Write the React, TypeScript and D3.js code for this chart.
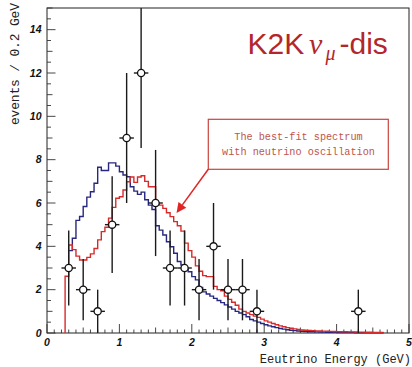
import React from "react";
import * as d3 from "d3";

// ---- data ----
const binWidth = 0.05;
const redStart = 0.25;
const redValues = [
  2.62, 4.06, 3.85, 3.55, 3.37, 3.37, 3.49, 3.65, 3.9, 4.3,
  4.68, 4.88, 5.3, 5.8, 6.22, 6.29, 6.6, 6.98, 7.2, 6.95,
  7.2, 7.26, 7.0, 6.75, 6.75, 6.0, 5.9, 5.75, 5.55, 5.37,
  5.14, 4.95, 4.7, 4.15, 3.8, 3.5, 3.1, 2.85, 2.65, 2.6,
  2.6, 2.15, 2.0, 1.95, 1.7, 1.55, 1.42, 1.28, 1.1, 1.0,
  0.92, 0.85, 0.78, 0.72, 0.64, 0.56,
  0.5, 0.44, 0.38, 0.33, 0.29, 0.25, 0.22, 0.19, 0.16, 0.14,
  0.13, 0.12, 0.11, 0.1, 0.09, 0.085, 0.08, 0.075, 0.07, 0.065,
  0.06, 0.055, 0.05, 0.05, 0.045, 0.04, 0.04, 0.035, 0.035, 0.03,
  0.03, 0.03,
];
const blueStart = 0.3;
const blueValues = [
  3.8, 4.37, 5.2, 5.38, 5.84, 6.27, 6.52, 6.91, 7.65, 7.5,
  7.5, 7.85, 7.85, 7.7, 7.44, 7.29, 7.21, 6.75, 6.55, 6.4,
  6.5, 6.15, 5.9, 5.7, 4.95, 4.75, 4.52, 4.21, 3.98, 3.68,
  3.3, 3.14, 2.98, 2.83, 2.6, 2.45, 2.1, 1.9, 1.8, 1.7,
  1.6, 1.5, 1.4, 1.3, 1.2, 1.1, 1.0, 0.92, 0.85, 0.75,
  0.62, 0.56, 0.5, 0.44, 0.38,
  0.33, 0.29, 0.25, 0.21, 0.18, 0.15, 0.13, 0.11, 0.09, 0.08,
  0.07, 0.06, 0.055, 0.05, 0.045, 0.04, 0.035, 0.03, 0.03, 0.025,
  0.025, 0.02, 0.02, 0.02, 0.015, 0.015, 0.015, 0.01, 0.01, 0.01,
  0.01, 0.01,
];
const dataE = [0.3, 0.5, 0.7, 0.9, 1.1, 1.3, 1.5, 1.7, 1.9, 2.1, 2.3, 2.5, 2.7, 2.9, 4.3];
const dataN = [3, 2, 1, 5, 9, 12, 6, 3, 3, 2, 4, 2, 2, 1, 1];
const dataHalfWidth = 0.1;
const xTickLabels = [0, 1, 2, 3, 4, 5];
const yTickLabels = [0, 2, 4, 6, 8, 10, 12, 14];
const xMax = 5;
const yMax = 15;

const titleColor = "#b3262b";
const redColor = "#d82a2a";
const blueColor = "#27277f";

function stepPoints(start: number, values: number[], fromZero: boolean): [number, number][] {
  const pts: [number, number][] = [];
  if (fromZero) pts.push([start, 0]);
  values.forEach((v, i) => {
    pts.push([start + i * binWidth, v]);
    pts.push([start + (i + 1) * binWidth, v]);
  });
  return pts;
}

export default function App() {
  const W = 412, H = 367;
  const x = d3.scaleLinear().domain([0, xMax]).range([47, 409]);
  const y = d3.scaleLinear().domain([0, yMax]).range([333, 8]);
  const line = d3.line<[number, number]>().x((d) => x(d[0])).y((d) => y(d[1]));

  const redPath = line(stepPoints(redStart, redValues, true)) || "";
  const bluePath = line(stepPoints(blueStart, blueValues, false)) || "";

  const xMinor = d3.range(0, xMax + 0.001, 0.1);
  const yMinor = d3.range(0, yMax + 0.001, 0.5);

  // arrow
  const from: [number, number] = [208.3, 169.3];
  const tip: [number, number] = [176.5, 213];
  const dx = tip[0] - from[0], dy = tip[1] - from[1];
  const len = Math.hypot(dx, dy);
  const ux = dx / len, uy = dy / len;
  const aL = 10, aW = 4.8;
  const bc: [number, number] = [tip[0] - aL * ux, tip[1] - aL * uy];
  const arrowPts = [
    tip,
    [bc[0] - aW * uy, bc[1] + aW * ux],
    [bc[0] + aW * uy, bc[1] - aW * ux],
  ].map((p) => p.join(",")).join(" ");

  return (
    <svg width={W} height={H} style={{ position: "absolute", left: 0, top: 0, background: "#fff" }}>
      <rect x={0} y={0} width={W} height={H} fill="#fff" />
      {/* frame */}
      <rect x={x(0)} y={y(yMax)} width={x(xMax) - x(0)} height={y(0) - y(yMax)} fill="none" stroke="#222" strokeWidth={1} />
      {/* x ticks */}
      {xMinor.map((t, i) => {
        const major = Math.abs(t - Math.round(t)) < 1e-6;
        const half = !major && Math.abs(t * 2 - Math.round(t * 2)) < 1e-6;
        const l = major ? 9 : half ? 5.5 : 3.5;
        return <line key={"xt" + i} x1={x(t)} x2={x(t)} y1={y(0)} y2={y(0) - l} stroke="#333" strokeWidth={0.9} />;
      })}
      {/* y ticks */}
      {yMinor.map((t, i) => {
        const major = Math.abs(t / 2 - Math.round(t / 2)) < 1e-6;
        const integer = !major && Math.abs(t - Math.round(t)) < 1e-6;
        const l = major ? 8.5 : integer ? 5.5 : 4;
        return <line key={"yt" + i} x1={x(0)} x2={x(0) + l} y1={y(t)} y2={y(t)} stroke="#333" strokeWidth={0.9} />;
      })}
      {/* tick labels */}
      {xTickLabels.map((t) => (
        <text key={"xl" + t} x={x(t) + (t === 0 ? 0 : 0)} y={346} textAnchor="middle"
          fontFamily="Liberation Sans, Arial, sans-serif" fontWeight="bold" fontStyle="italic" fontSize={10.5} fill="#111">{t}</text>
      ))}
      {yTickLabels.map((t) => (
        <text key={"yl" + t} x={41.5} y={y(t) + 3.8} textAnchor="end"
          fontFamily="Liberation Sans, Arial, sans-serif" fontWeight="bold" fontStyle="italic" fontSize={10.5} fill="#111">{t}</text>
      ))}
      {/* axis titles */}
      <text transform={`translate(18.5,125) rotate(-90)`} textAnchor="start"
        fontFamily="Liberation Mono, DejaVu Sans Mono, monospace" fontSize={13} fill="#222"
        textLength={122} lengthAdjust="spacing">events / 0.2 GeV</text>
      <text x={411} y={363} textAnchor="end" fontFamily="Liberation Mono, DejaVu Sans Mono, monospace"
        fontSize={12} fill="#222">Eeutrino Energy (GeV)</text>

      {/* histograms */}
      <path d={bluePath} fill="none" stroke={blueColor} strokeWidth={1.4} />
      <path d={redPath} fill="none" stroke={redColor} strokeWidth={1.4} />

      {/* data points */}
      {dataE.map((e, i) => {
        const n = dataN[i];
        const err = Math.sqrt(n);
        const lo = Math.max(0, n - err);
        const hi = Math.min(yMax, n + err);
        return (
          <g key={"p" + i}>
            <line x1={x(e)} x2={x(e)} y1={y(lo)} y2={y(hi)} stroke="#1a1a1a" strokeWidth={1.4} />
            <line x1={x(e - dataHalfWidth)} x2={x(e + dataHalfWidth)} y1={y(n)} y2={y(n)} stroke="#1a1a1a" strokeWidth={1.4} />
            <circle cx={x(e)} cy={y(n)} r={3.6} fill="#fff" stroke="#111" strokeWidth={1.3} />
          </g>
        );
      })}

      {/* annotation */}
      <rect x={208.3} y={119.3} width={180} height={50} fill="#fff" stroke="#c9443f" strokeWidth={1.2} />
      <text x={298.5} y={140} textAnchor="middle" fontFamily="Liberation Mono, DejaVu Sans Mono, monospace"
        fontSize={10.2} fill="#c0554c">The best-fit spectrum</text>
      <text x={298.5} y={155} textAnchor="middle" fontFamily="Liberation Mono, DejaVu Sans Mono, monospace"
        fontSize={10.2} fill="#c0554c">with neutrino oscillation</text>
      <line x1={from[0]} y1={from[1]} x2={bc[0]} y2={bc[1]} stroke="#e02424" strokeWidth={1.5} />
      <polygon points={arrowPts} fill="#e02424" />

      {/* title */}
      <text y={53.5} fontFamily="Liberation Sans, Arial, sans-serif" fontSize={30} fill={titleColor}>
        <tspan x={247.5}>K2K</tspan>
        <tspan x={309} fontFamily="Liberation Serif, Times New Roman, serif" fontStyle="italic">ν</tspan>
        <tspan x={325.5} dy={6.5} fontFamily="Liberation Serif, Times New Roman, serif" fontStyle="italic" fontSize={20}>μ</tspan>
        <tspan x={339.5} dy={-6.5}>-dis</tspan>
      </text>
    </svg>
  );
}
